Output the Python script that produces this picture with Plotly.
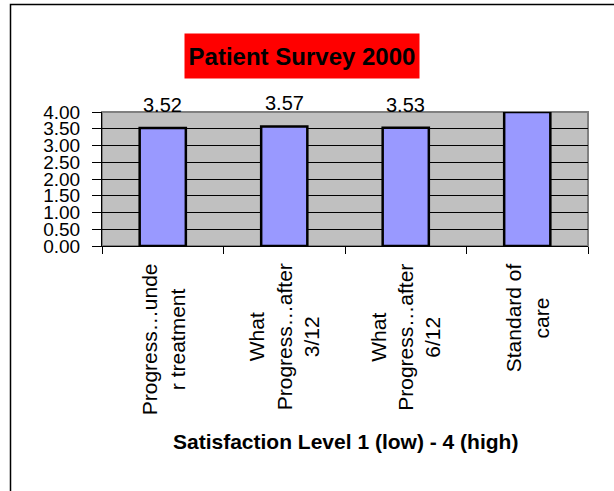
import plotly.graph_objects as go

# ---- data ----
categories = ["Progress…unde<br>r treatment",
              "What<br>Progress…after<br>3/12",
              "What<br>Progress…after<br>6/12",
              "Standard of<br>care"]
values = [3.52, 3.57, 3.53, 4.00]
data_labels = ["3.52", "3.57", "3.53", ""]
y_tick_values = [0, 0.5, 1.0, 1.5, 2.0, 2.5, 3.0, 3.5, 4.0]
y_tick_labels = ["0.00", "0.50", "1.00", "1.50", "2.00", "2.50", "3.00", "3.50", "4.00"]
title_text = "Patient Survey 2000"
x_title = "Satisfaction Level 1 (low) - 4 (high)"

# ---- layout geometry (pixels, page coordinates; body margin removed) ----
W, H = 614, 491
L, T = 102, 112
PR, PB = 588, 246       # plot right / bottom
R, B = W - PR, H - PB
pw = PR - L
ph = PB - T


def px_x(px):
    return (px - L) / pw


def px_y(py):
    return (PB - py) / ph


FONT = "Arial, Liberation Sans, sans-serif"

fig = go.Figure()
fig.add_trace(go.Bar(
    x=categories, y=values,
    marker=dict(color="#9999FF", line=dict(color="black", width=2.5)),
    hoverinfo="skip",
))

annotations = []
for c, v, t in zip(categories, values, data_labels):
    if t:
        annotations.append(dict(x=c, y=v, xref="x", yref="y", text=t, showarrow=False,
                                yanchor="bottom", yshift=10,
                                font=dict(family=FONT, size=20, color="black")))
for c in categories:
    annotations.append(dict(x=c, y=px_y(261.5), xref="x", yref="paper", text=c,
                            showarrow=False, textangle=-90, align="center",
                            xanchor="center", yanchor="top",
                            font=dict(family=FONT, size=21, color="black")))
annotations.append(dict(x=px_x(302), y=px_y(56), xref="paper", yref="paper",
                        text="<b>" + title_text + "</b>", showarrow=False,
                        xanchor="center", yanchor="middle", bgcolor="#FF0000",
                        width=234, height=44, borderpad=0,
                        font=dict(family=FONT, size=24, color="black")))
annotations.append(dict(x=px_x(345), y=px_y(441), xref="paper", yref="paper",
                        text="<b>" + x_title + "</b>", showarrow=False,
                        xanchor="center", yanchor="middle",
                        font=dict(family=FONT, size=21, color="black")))

shapes = [
    dict(type="rect", xref="x domain", yref="y domain", x0=0, x1=1, y0=0, y1=1,
         line=dict(color="#808080", width=2), layer="below"),
    dict(type="rect", xref="paper", yref="paper",
         x0=px_x(10.5), x1=px_x(640), y0=px_y(520), y1=px_y(4.5),
         line=dict(color="black", width=1.5), layer="above"),
]

fig.update_layout(
    width=W, height=H, autosize=False,
    margin=dict(l=L, r=R, t=T, b=B, pad=0),
    paper_bgcolor="white", plot_bgcolor="#C0C0C0",
    showlegend=False, bargap=0.62,
    annotations=annotations, shapes=shapes,
    font=dict(family=FONT, color="black"),
)
fig.update_xaxes(
    showticklabels=False, ticks="outside", tickson="boundaries", ticklen=7,
    tickcolor="black", showline=True, linecolor="black", linewidth=1,
    showgrid=False, fixedrange=True,
)
fig.update_yaxes(
    range=[0, 4], tickvals=y_tick_values, ticktext=y_tick_labels,
    ticks="outside", ticklen=9, tickcolor="black", ticklabelstandoff=8,
    showline=True, linecolor="black", linewidth=1,
    showgrid=True, gridcolor="black", gridwidth=1, zeroline=False,
    tickfont=dict(family=FONT, size=19, color="black"), fixedrange=True,
)

fig.write_html("out.html", config={"displayModeBar": False},
               post_script="document.body.style.margin='0px';document.body.style.overflow='hidden';")
